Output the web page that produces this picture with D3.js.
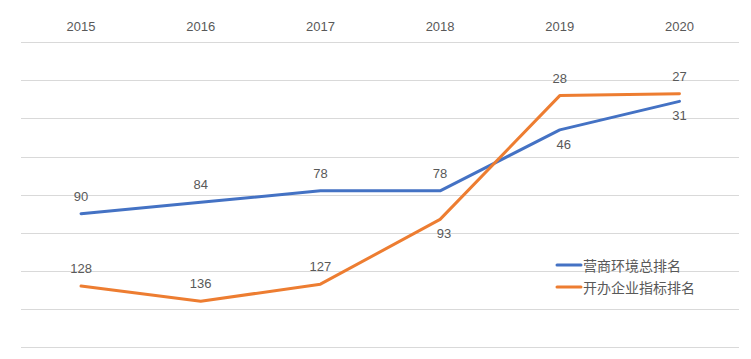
<!DOCTYPE html>
<html><head><meta charset="utf-8">
<script src="https://cdn.jsdelivr.net/npm/d3@7"></script>
<style>body{margin:0;background:#fff}svg{display:block}</style>
</head><body>
<svg id="c" width="751" height="359"></svg>
<script>
const years = ["2015","2016","2017","2018","2019","2020"];
const seriesNames = ["营商环境总排名","开办企业指标排名"];
const overallRank = [90,84,78,78,46,31];
const startupRank = [128,136,127,93,28,27];
// label placement per point: "a" above, "b" below
const overallLabelPos = ["a","a","a","a","b","b"];
const startupLabelPos = ["a","a","a","b","a","a"];
const yTicks = [0,20,40,60,80,100,120,140,160];
const colors = ["#4472C4","#ED7D31"];

const svg = d3.select("#c");
const x = d3.scaleBand().domain(years).range([21.2, 739.3]);
const y = d3.scaleLinear().domain([0,160]).range([42.3, 347]);
const cx = d => x(d) + x.bandwidth()/2;

// gridlines
svg.append("g").selectAll("line").data(yTicks).join("line")
  .attr("x1", 21).attr("x2", 739)
  .attr("y1", d => Math.round(y(d)) + 0.5).attr("y2", d => Math.round(y(d)) + 0.5)
  .attr("stroke", "#d9d9d9").attr("stroke-width", 1);

// top axis labels
const xAxis = d3.axisTop(x).tickSize(0).tickPadding(0);
const gx = svg.append("g").attr("transform", "translate(0,31)").call(xAxis);
gx.select(".domain").remove();
gx.selectAll("text").attr("font-family", "Liberation Sans, Arial, sans-serif")
  .attr("font-size", 13).attr("fill", "#595959");

const series = [
  {name: seriesNames[0], values: overallRank, pos: overallLabelPos, color: colors[0]},
  {name: seriesNames[1], values: startupRank, pos: startupLabelPos, color: colors[1]}
];

const line = d3.line().x((d,i) => cx(years[i])).y(d => y(d));

series.forEach(s => {
  svg.append("path").datum(s.values).attr("d", line)
    .attr("fill", "none").attr("stroke", s.color).attr("stroke-width", 3)
    .attr("stroke-linejoin", "round").attr("stroke-linecap", "round");
});

series.forEach(s => {
  svg.append("g").selectAll("text").data(s.values).join("text")
    .attr("x", (d,i) => cx(years[i]) + (s.pos[i] === "b" && i < 5 ? 4 : 0))
    .attr("y", (d,i) => s.pos[i] === "a" ? y(d) - 13 : y(d) + 19)
    .attr("text-anchor", "middle")
    .attr("font-family", "Liberation Sans, Arial, sans-serif")
    .attr("font-size", 13).attr("fill", "#595959")
    .text(d => d);
});

// legend
const lg = svg.append("g").attr("transform", "translate(557,265)");
series.forEach((s, i) => {
  const g = lg.append("g").attr("transform", `translate(0,${i*22})`);
  g.append("line").attr("x1", 0).attr("x2", 24).attr("y1", 0).attr("y2", 0)
    .attr("stroke", s.color).attr("stroke-width", 3).attr("stroke-linecap", "round");
  g.append("text").attr("x", 26).attr("y", 5.5)
    .attr("font-family", "Noto Sans CJK SC, sans-serif")
    .attr("font-size", 14).attr("fill", "#595959").text(s.name);
});
</script>
</body></html>
